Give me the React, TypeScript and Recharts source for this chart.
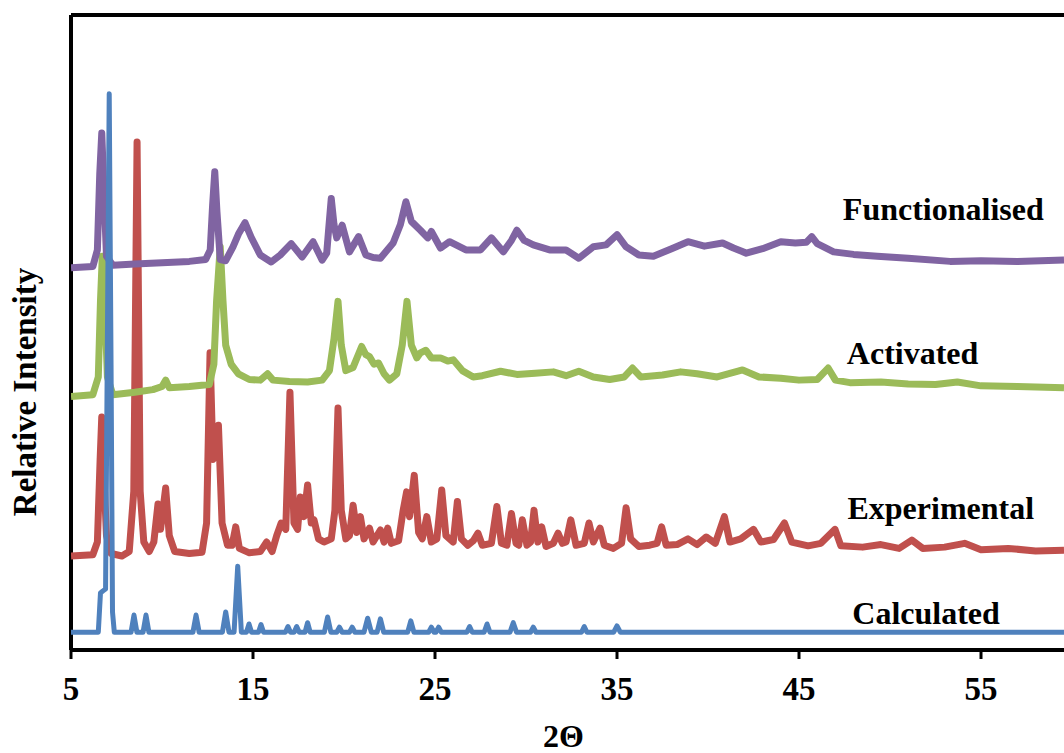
import React from 'react';
import { LineChart, Line, XAxis, YAxis, ReferenceLine, ReferenceDot } from 'recharts';

type Pt = [number, number];

// 2-theta vs offset relative intensity
const calculated: Pt[] = [
  [5, 2.8], [6.5, 2.8], [6.62, 9.0], [6.75, 9.3], [6.9, 9.6], [6.99, 45], [7.1, 87.6], [7.2, 45], [7.28, 6], [7.38, 2.8],
  [8.3, 2.8], [8.46, 5.5], [8.62, 2.8], [8.96, 2.8], [9.12, 5.5], [9.28, 2.8],
  [11.7, 2.8], [11.87, 5.5], [12.04, 2.8], [13.32, 2.8], [13.5, 6.0], [13.68, 2.8],
  [13.96, 2.8], [14.16, 13.2], [14.36, 2.8], [14.64, 2.8], [14.78, 4.1], [14.92, 2.8],
  [15.3, 2.8], [15.44, 4.0], [15.58, 2.8], [16.78, 2.8], [16.92, 3.7], [17.06, 2.8],
  [17.26, 2.8], [17.4, 3.7], [17.54, 2.8], [17.86, 2.8], [18.0, 4.3], [18.14, 2.8],
  [18.92, 2.8], [19.1, 5.2], [19.28, 2.8], [19.6, 2.8], [19.75, 3.6], [19.9, 2.8],
  [20.3, 2.8], [20.45, 3.6], [20.6, 2.8], [21.1, 2.8], [21.3, 5.0], [21.5, 2.8],
  [21.82, 2.8], [22.0, 4.9], [22.18, 2.8], [23.5, 2.8], [23.67, 4.6], [23.84, 2.8],
  [24.65, 2.8], [24.8, 3.6], [24.95, 2.8], [25.05, 2.8], [25.2, 3.6], [25.35, 2.8],
  [26.75, 2.8], [26.9, 3.7], [27.05, 2.8], [27.7, 2.8], [27.86, 4.1], [28.02, 2.8],
  [29.12, 2.8], [29.3, 4.3], [29.48, 2.8], [30.25, 2.8], [30.4, 3.6], [30.55, 2.8],
  [33.05, 2.8], [33.2, 3.7], [33.35, 2.8], [34.82, 2.8], [35.0, 3.8], [35.18, 2.8],
  [59.56, 2.8],
];

const experimental: Pt[] = [
  [5, 14.8], [6.2, 15.0], [6.45, 17], [6.6, 30], [6.69, 36.7], [6.8, 28], [6.95, 18], [7.2, 15.2],
  [7.8, 14.8], [8.2, 15.5], [8.45, 25], [8.63, 80], [8.8, 25], [9.0, 17], [9.3, 15.5],
  [9.55, 17], [9.78, 23], [9.92, 19], [10.2, 25.5], [10.4, 18], [10.7, 15.5], [11.5, 15.2],
  [12.2, 15.4], [12.45, 20], [12.64, 46.8], [12.8, 30], [12.9, 30.5], [13.1, 35.4], [13.3, 20],
  [13.6, 16.5], [13.85, 16.5], [14.05, 19.4], [14.25, 16], [14.8, 15.3], [15.4, 15.5],
  [15.75, 17], [16.05, 15.5], [16.3, 18], [16.55, 20], [16.8, 19], [17.03, 40.6], [17.25, 20],
  [17.45, 19], [17.6, 24.1], [17.8, 21], [18.0, 26], [18.2, 20], [18.35, 20.5], [18.6, 17.5],
  [18.9, 17], [19.3, 17.5], [19.5, 22], [19.67, 38.1], [19.85, 22], [20.1, 17.5], [20.3, 18],
  [20.5, 22.8], [20.7, 18.5], [20.9, 21], [21.1, 17.5], [21.4, 19.2], [21.6, 17], [22.0, 18.9],
  [22.2, 17], [22.4, 19.2], [22.6, 16.8], [23.0, 17.2], [23.25, 22], [23.44, 24.9], [23.6, 21],
  [23.86, 27.5], [24.1, 18.5], [24.3, 17.5], [24.55, 21], [24.8, 17], [25.1, 17.5], [25.37, 25.2],
  [25.6, 18], [26.0, 17], [26.23, 23.4], [26.45, 17.5], [26.8, 16.5], [27.1, 17.2], [27.36, 18.4],
  [27.6, 16.5], [28.1, 16.8], [28.4, 22.6], [28.65, 16.8], [28.95, 16.5], [29.2, 21.5],
  [29.45, 16.8], [29.6, 16.5], [29.8, 20.5], [30.05, 16.5], [30.25, 17], [30.44, 22], [30.65, 17],
  [30.86, 19.4], [31.1, 16.3], [31.5, 16.8], [31.76, 18.4], [32.0, 16.8], [32.2, 17], [32.46, 20.5],
  [32.75, 16.5], [33.2, 16.8], [33.46, 20], [33.7, 17], [34.07, 19.2], [34.3, 16.5], [34.8, 16],
  [35.25, 16.8], [35.5, 22.4], [35.75, 17.5], [36.2, 16.3], [36.8, 16.5], [37.2, 16.8],
  [37.45, 19.4], [37.7, 16.5], [38.3, 16.6], [38.9, 17.5], [39.4, 16.6], [39.9, 17.8], [40.4, 16.8],
  [40.9, 21], [41.2, 17], [41.8, 17.5], [42.5, 19], [42.9, 17], [43.6, 17.4], [44.2, 20], [44.6, 17],
  [45.5, 16.4], [46.2, 16.8], [46.98, 19], [47.3, 16.4], [48.5, 16.2], [49.5, 16.6], [50.5, 16.0],
  [51.2, 17.3], [51.8, 16], [53, 16.2], [54.1, 16.8], [55, 15.8], [56.5, 16], [58, 15.6], [59.56, 15.7],
];

const activated: Pt[] = [
  [5, 39.9], [6.2, 40.2], [6.5, 43], [6.62, 55], [6.72, 62], [6.85, 55], [7.0, 43], [7.3, 40.2],
  [8.5, 40.6], [9.5, 41], [10.0, 41.5], [10.2, 42.5], [10.4, 41.3], [11.5, 41.5], [12.6, 41.8],
  [12.85, 45], [13.0, 55], [13.2, 63.5], [13.35, 55], [13.5, 48], [13.8, 45], [14.2, 43.5],
  [14.8, 42.6], [15.4, 42.5], [15.8, 43.5], [16.1, 42.5], [17, 42.3], [18, 42.2], [18.8, 42.5],
  [19.2, 44], [19.45, 49], [19.67, 54.9], [19.85, 48], [20.1, 44], [20.5, 44.5], [20.97, 47.8],
  [21.2, 46.5], [21.4, 46.2], [21.65, 45], [21.9, 45.2], [22.2, 43.5], [22.5, 42.5], [22.9, 43.5],
  [23.2, 48], [23.46, 54.9], [23.7, 48], [24.0, 46], [24.2, 46.8], [24.5, 47.2], [24.8, 46],
  [25.3, 46], [25.7, 45.5], [26.0, 45.7], [26.5, 44], [27.1, 43], [27.6, 43.2], [28.6, 43.9],
  [29.5, 43.4], [30.5, 43.6], [31.5, 43.8], [32.2, 43.2], [32.9, 43.9], [33.7, 43], [34.6, 42.6],
  [35.4, 43], [35.85, 44.4], [36.3, 43], [37.5, 43.3], [38.5, 43.8], [39.4, 43.5], [40.5, 43],
  [41.9, 44.1], [42.8, 43], [44, 42.8], [45, 42.5], [46.0, 42.6], [46.6, 44.4], [47.0, 42.5],
  [47.8, 42.1], [49.5, 42.2], [51, 41.9], [52.5, 41.8], [53.7, 42.2], [55, 41.6], [57, 41.5],
  [59.56, 41.3],
];

const functionalised: Pt[] = [
  [5, 60.2], [6.2, 60.4], [6.45, 63], [6.58, 75], [6.69, 81.4], [6.8, 73], [6.95, 62], [7.3, 60.6],
  [8.5, 60.8], [10, 61.0], [11.5, 61.2], [12.4, 61.5], [12.65, 63], [12.78, 70], [12.9, 75.3],
  [13.02, 69], [13.2, 61.5], [13.5, 61.3], [13.9, 63.5], [14.2, 65.5], [14.56, 67.3], [14.9, 65],
  [15.4, 62.2], [16.0, 61.1], [16.5, 62.2], [17.1, 64], [17.7, 61.9], [18.3, 64.3], [18.8, 61.4],
  [19.05, 62.5], [19.15, 66], [19.3, 71.1], [19.45, 67], [19.6, 64.9], [19.9, 66.9], [20.3, 62.7],
  [20.8, 65.1], [21.2, 62.2], [21.6, 61.8], [22.0, 61.7], [22.7, 64.1], [23.1, 67], [23.4, 70.6],
  [23.7, 67.5], [24.2, 66.1], [24.6, 64.9], [24.8, 65.9], [25.3, 63.3], [25.8, 64.3], [26.7, 63],
  [27.5, 63], [28.1, 64.9], [28.75, 62.7], [29.2, 64.5], [29.5, 66.1], [29.9, 64.5], [30.4, 63.8],
  [31.3, 63], [32.2, 63], [32.9, 61.7], [33.7, 63.5], [34.4, 63.8], [35.0, 65.4], [35.5, 63.5],
  [36.2, 62.2], [37.0, 62], [38.0, 63.2], [38.9, 64.3], [39.8, 63.6], [40.8, 64.1], [41.4, 63.3],
  [42.1, 62.5], [43.0, 63.2], [44.0, 64.3], [44.8, 64.1], [45.4, 64.2], [45.7, 65.1], [46.0, 64],
  [46.9, 62.7], [48, 62.3], [49.3, 62], [51, 61.7], [53.3, 61.2], [55, 61.3], [57, 61.2], [59.56, 61.4],
];

const xTicks = [5, 15, 25, 35, 45, 55];

const toRows = (pts: Pt[]) => pts.map(([x, y]) => ({ x, y }));

const serif = '"Liberation Serif", "Times New Roman", serif';

const labelStyle = { fontSize: 32, fontWeight: 'bold', fontFamily: serif, fill: '#000' };

export default function App() {
  return (
    <div style={{ position: 'absolute', left: 0, top: 0, width: 1064, height: 753, background: '#fff' }}>
      <LineChart width={1064} height={753} margin={{ top: 15, right: 0, bottom: 0, left: 71 }}>
        <XAxis
          dataKey="x"
          type="number"
          domain={[5, 59.56]}
          ticks={xTicks}
          interval={0}
          allowDataOverflow
          height={103}
          axisLine={{ stroke: '#000', strokeWidth: 4 }}
          tickLine={{ stroke: '#000', strokeWidth: 3 }}
          tickSize={9}
          tickMargin={18}
          tick={{ fill: '#000', fontSize: 33, fontWeight: 'bold', fontFamily: serif }}
          label={{ value: '2Θ', position: 'insideBottom', offset: 6, dx: -4, ...labelStyle }}
        />
        <YAxis type="number" domain={[0, 100]} hide />
        <ReferenceLine y={100} stroke="#000" strokeWidth={4} />
        <ReferenceLine x={5} stroke="#000" strokeWidth={4} />
        <Line data={toRows(experimental)} dataKey="y" name="Experimental" stroke="#C0504D" strokeWidth={7}
          dot={false} type="linear" strokeLinejoin="round" isAnimationActive={false} />
        <Line data={toRows(activated)} dataKey="y" name="Activated" stroke="#9BBB59" strokeWidth={7}
          dot={false} type="linear" strokeLinejoin="round" isAnimationActive={false} />
        <Line data={toRows(functionalised)} dataKey="y" name="Functionalised" stroke="#8064A2" strokeWidth={7}
          dot={false} type="linear" strokeLinejoin="round" isAnimationActive={false} />
        <Line data={toRows(calculated)} dataKey="y" name="Calculated" stroke="#4F81BD" strokeWidth={5}
          dot={false} type="linear" strokeLinejoin="round" isAnimationActive={false} />
        <ReferenceDot x={52.93} y={69.56} r={0} stroke="none" label={{ value: 'Functionalised', position: 'center', ...labelStyle }} />
        <ReferenceDot x={51.24} y={46.8} r={0} stroke="none" label={{ value: 'Activated', position: 'center', ...labelStyle }} />
        <ReferenceDot x={52.79} y={22.44} r={0} stroke="none" label={{ value: 'Experimental', position: 'center', ...labelStyle }} />
        <ReferenceDot x={51.98} y={5.9} r={0} stroke="none" label={{ value: 'Calculated', position: 'center', ...labelStyle }} />
      </LineChart>
      <div
        style={{
          position: 'absolute',
          left: 25,
          top: 392,
          transform: 'translate(-50%, -50%) rotate(-90deg)',
          whiteSpace: 'nowrap',
          fontFamily: serif,
          fontWeight: 'bold',
          fontSize: 33,
          lineHeight: '33px',
          color: '#000',
        }}
      >
        Relative Intensity
      </div>
    </div>
  );
}
